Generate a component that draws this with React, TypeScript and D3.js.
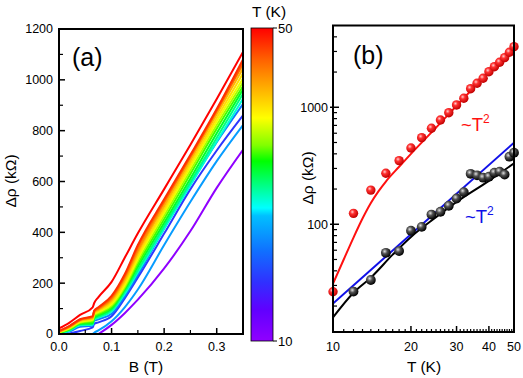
import React from 'react';
import * as d3 from 'd3';

// ---- panel (a): magnetoresistance curves, one per temperature ----
const B_GRID = [0, 0.02, 0.04, 0.064, 0.067, 0.075, 0.1, 0.125, 0.15, 0.2, 0.25, 0.3, 0.35];
const CURVE_T = [10, 24, 18, 22, 28, 30, 32, 34, 36, 38, 40, 42, 44, 46, 48, 50];
const CURVE_RHO: (number | null)[][] = [
  [null, null, null, null, null, 0, 36, 82, 135, 258, 405, 575, 725],
  [null, null, null, 0, 5, 14, 50, 105, 175, 350, 520, 680, 822],
  [null, 2, 12, 26, 40, 46, 70, 140, 222, 395, 570, 722, 860],
  [2, 10, 28, 32, 52, 58, 80, 148, 233, 415, 590, 755, 905],
  [3, 13, 34, 36, 57, 64, 88, 158, 243, 414, 585, 757, 925],
  [3, 15, 37, 39, 60, 68, 94, 166, 252, 425, 598, 772, 945],
  [4, 17, 40, 42, 64, 73, 100, 175, 265, 438, 612, 790, 962],
  [5, 19, 42, 48, 70, 78, 106, 180, 276, 452, 630, 808, 975],
  [6, 21, 45, 53, 75, 83, 112, 185, 287, 466, 644, 822, 990],
  [7, 23, 48, 57, 79, 87, 118, 193, 297, 478, 657, 836, 1005],
  [8, 25, 50, 60, 82, 91, 125, 202, 308, 490, 670, 850, 1025],
  [9, 27, 53, 63, 85, 95, 132, 212, 320, 503, 683, 865, 1045],
  [10, 29, 55, 66, 88, 99, 138, 222, 330, 515, 695, 878, 1060],
  [11, 30, 56, 68, 90, 102, 144, 228, 342, 522, 698, 878, 1068],
  [12, 32, 58, 70, 92, 105, 150, 235, 350, 530, 705, 885, 1080],
  [22, 45, 75, 105, 122, 145, 205, 300, 396, 570, 745, 925, 1110],
];
const A_Y_TICKS = [0, 200, 400, 600, 800, 1000, 1200];
const A_X_TICKS = [0, 0.1, 0.2, 0.3];

// colour bar (Origin rainbow)
const CB_T = [10, 14, 17.5, 21.5, 26, 27, 30, 33, 35, 38.5, 43, 46, 50];
const CB_COLORS = ['#9000ff', '#6000ff', '#3030ff', '#1070ff', '#00c0ff', '#00ffff', '#00ff80', '#00ff00', '#80ff00', '#ffff00', '#ffa000', '#ff6000', '#ff0000'];

// ---- panel (b): Δρ vs T ----
const RED_T = [10, 12, 14, 16, 18, 20, 22, 24, 26, 28, 30, 32, 34, 36, 38, 40, 42, 44, 46, 48, 50];
const RED_RHO = [26.5, 124, 196, 273, 350, 449, 550, 662, 779, 899, 1047, 1194, 1442, 1603, 1770, 2015, 2223, 2425, 2656, 2953, 3296];
const BLACK_T = [12, 14, 16, 18, 20, 22, 24, 26, 28, 30, 32, 34, 36, 38, 40, 42, 44, 46, 48, 50];
const BLACK_RHO = [26.6, 33.4, 57, 59, 88, 95, 121, 128, 144, 166, 188, 270, 262, 250, 255, 276, 282, 266, 378, 409];
const RED_FIT_T = [10, 11, 12, 13, 14, 15, 16, 18, 20, 25, 30, 40, 50];
const RED_FIT_RHO = [31, 50, 77, 112, 152, 192, 232, 310, 400, 670, 1030, 2020, 3400];
const BLACK_FIT_T = [10, 12, 14, 17, 20, 25, 30, 40, 50];
const BLACK_FIT_RHO = [16, 26, 35, 55, 78, 115, 155, 235, 332];
const BLUE_FIT_T = [10, 50];
const BLUE_FIT_RHO = [21, 498];
const B_X_TICKS = [10, 20, 30, 40, 50];
const B_Y_TICKS = [100, 1000];

const FONT = "'Liberation Sans', Arial, Helvetica, sans-serif";

export default function App() {
  // panel a scales
  const xa = d3.scaleLinear().domain([0, 0.35]).range([59, 243]);
  const ya = d3.scaleLinear().domain([0, 1200]).range([334, 29]);
  const color = d3.scaleLinear<string>().domain(CB_T).range(CB_COLORS).interpolate(d3.interpolateRgb);
  const lineA = d3
    .line<number | null>()
    .defined(d => d !== null)
    .x((d, i) => xa(B_GRID[i]))
    .y(d => ya(d as number))
    .curve(d3.curveMonotoneX);

  // panel b scales
  const xb = d3.scaleLog().domain([10, 50]).range([333, 514]);
  const yb = d3.scaleLog().domain([12, 5000]).range([332, 25.5]);
  const lineB = (ts: number[], vs: number[]) =>
    d3
      .line<number>()
      .x((d, i) => xb(ts[i]))
      .y(d => yb(d))
      .curve(d3.curveMonotoneX)(vs) || '';

  const fmt1 = d3.format('.1f');
  const aMinorY = d3.range(100, 1200, 200);
  const aMinorX = d3.range(0.05, 0.35, 0.1);
  const bMinorX = d3.range(11, 50).filter(t => t % 10 !== 0);
  const bMinorY = [20, 30, 40, 50, 60, 70, 80, 90, 200, 300, 400, 500, 600, 700, 800, 900, 2000, 3000, 4000];

  const cbTop = 28;
  const cbBottom = 341;

  return (
    <svg
      width={523}
      height={378}
      style={{ position: 'absolute', left: 0, top: 0, background: '#fff' }}
      fontFamily={FONT}
    >
      <defs>
        <clipPath id="clipA">
          <rect x={59} y={29} width={184} height={305} />
        </clipPath>
        <clipPath id="clipB">
          <rect x={333} y={25.5} width={181} height={306.5} />
        </clipPath>
        <linearGradient id="cbGrad" x1="0" y1="1" x2="0" y2="0">
          {CB_T.map((t, i) => (
            <stop key={i} offset={(t - 10) / 40} stopColor={CB_COLORS[i]} />
          ))}
        </linearGradient>
        <radialGradient id="ballRed" cx="0.38" cy="0.35" r="0.65">
          <stop offset="0" stopColor="#ffd0d0" />
          <stop offset="0.35" stopColor="#ff3030" />
          <stop offset="1" stopColor="#c00000" />
        </radialGradient>
        <radialGradient id="ballBlack" cx="0.38" cy="0.35" r="0.65">
          <stop offset="0" stopColor="#e0e0e0" />
          <stop offset="0.4" stopColor="#505050" />
          <stop offset="1" stopColor="#000" />
        </radialGradient>
      </defs>

      {/* ---------- panel (a) ---------- */}
      <g clipPath="url(#clipA)">
        {CURVE_RHO.map((vals, i) => (
          <path key={i} d={lineA(vals) || ''} fill="none" stroke={color(CURVE_T[i])} strokeWidth={2} strokeLinejoin="round" />
        ))}
      </g>
      <rect x={59} y={29} width={184} height={305} fill="none" stroke="#000" strokeWidth={2} />
      {A_Y_TICKS.map(v => (
        <g key={v}>
          <line x1={59} x2={65} y1={ya(v)} y2={ya(v)} stroke="#000" strokeWidth={1.5} />
          <text x={53} y={ya(v)} dy="0.35em" textAnchor="end" fontSize={12.5}>
            {v}
          </text>
        </g>
      ))}
      {aMinorY.map(v => (
        <line key={v} x1={59} x2={63} y1={ya(v)} y2={ya(v)} stroke="#000" strokeWidth={1.2} />
      ))}
      {A_X_TICKS.map(v => (
        <g key={v}>
          <line x1={xa(v)} x2={xa(v)} y1={334} y2={328} stroke="#000" strokeWidth={1.5} />
          <text x={xa(v)} y={351} textAnchor="middle" fontSize={12.5}>
            {fmt1(v)}
          </text>
        </g>
      ))}
      {aMinorX.map(v => (
        <line key={v} x1={xa(v)} x2={xa(v)} y1={334} y2={330} stroke="#000" strokeWidth={1.2} />
      ))}
      <text x={72} y={66} fontSize={25}>
        (a)
      </text>
      <text x={146} y={372} textAnchor="middle" fontSize={15.5}>
        B (T)
      </text>
      <text transform="translate(16,181) rotate(-90)" textAnchor="middle" fontSize={15.5}>
        Δρ (kΩ)
      </text>

      {/* colour bar */}
      <rect x={251} y={cbTop} width={22} height={cbBottom - cbTop} fill="url(#cbGrad)" stroke="#000" strokeWidth={0.8} />
      <line x1={273} x2={277} y1={cbTop} y2={cbTop} stroke="#000" />
      <line x1={273} x2={277} y1={cbBottom} y2={cbBottom} stroke="#000" />
      <text x={278} y={cbTop} dy="0.35em" fontSize={13}>
        50
      </text>
      <text x={278} y={cbBottom} dy="0.35em" fontSize={13}>
        10
      </text>
      <text x={269} y={17} textAnchor="middle" fontSize={15.5}>
        T (K)
      </text>

      {/* ---------- panel (b) ---------- */}
      <g clipPath="url(#clipB)">
        <path d={lineB(RED_FIT_T, RED_FIT_RHO)} fill="none" stroke="#ff1010" strokeWidth={2} />
        <path d={lineB(BLACK_FIT_T, BLACK_FIT_RHO)} fill="none" stroke="#000" strokeWidth={2} />
        <path d={lineB(BLUE_FIT_T, BLUE_FIT_RHO)} fill="none" stroke="#1010e8" strokeWidth={2} />
      </g>
      {RED_RHO.map((v, i) => (
        <circle key={'r' + i} cx={xb(RED_T[i])} cy={yb(v)} r={4.7} fill="url(#ballRed)" />
      ))}
      {BLACK_RHO.map((v, i) => (
        <circle key={'k' + i} cx={xb(BLACK_T[i])} cy={yb(v)} r={4.9} fill="url(#ballBlack)" />
      ))}
      <rect x={333} y={25.5} width={181} height={306.5} fill="none" stroke="#000" strokeWidth={2} />
      {B_Y_TICKS.map(v => (
        <g key={v}>
          <line x1={330} x2={339} y1={yb(v)} y2={yb(v)} stroke="#000" strokeWidth={1.5} />
          <text x={328} y={yb(v)} dy="0.35em" textAnchor="end" fontSize={12.5}>
            {v}
          </text>
        </g>
      ))}
      {bMinorY.map(v => (
        <line key={v} x1={333} x2={337} y1={yb(v)} y2={yb(v)} stroke="#000" strokeWidth={1.2} />
      ))}
      {B_X_TICKS.map(v => (
        <g key={v}>
          <line x1={xb(v)} x2={xb(v)} y1={332} y2={326} stroke="#000" strokeWidth={1.5} />
          <text x={xb(v)} y={351} textAnchor="middle" fontSize={12.5}>
            {v}
          </text>
        </g>
      ))}
      {bMinorX.map(v => (
        <line key={v} x1={xb(v)} x2={xb(v)} y1={332} y2={329} stroke="#000" strokeWidth={1.2} />
      ))}
      <text x={353} y={64} fontSize={25}>
        (b)
      </text>
      <text x={461} y={131} fontSize={18.5} fill="#ff1010">
        ~T<tspan dy={-8} fontSize={12}>2</tspan>
      </text>
      <text x={465} y={223} fontSize={18.5} fill="#1010e8">
        ~T<tspan dy={-8} fontSize={12}>2</tspan>
      </text>
      <text x={424} y={372} textAnchor="middle" fontSize={15.5}>
        T (K)
      </text>
      <text transform="translate(313,178) rotate(-90)" textAnchor="middle" fontSize={15.5}>
        Δρ (kΩ)
      </text>
    </svg>
  );
}
